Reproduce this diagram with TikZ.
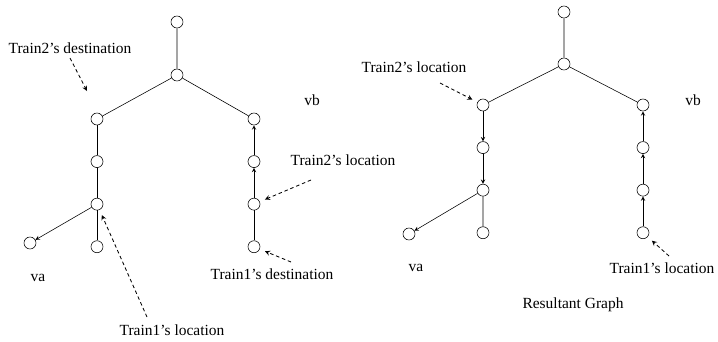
\documentclass[tikz,border=0pt]{standalone}
\usepackage{fontspec}
\setmainfont{Liberation Serif}
\usetikzlibrary{arrows,positioning}

\begin{document}
\begin{tikzpicture}[x=0.025cm, y=-0.025cm, node distance=0.75cm,
		every node/.style={font=\fontsize{11}{13}\selectfont},
		vtx/.style={draw, circle, inner sep=0pt, minimum size=0.3cm},
		pointer/.style={->, >=stealth, semithick, dash pattern=on 2.5pt off 2pt, shorten >=4pt}]
	\useasboundingbox (0,0) rectangle (718,342);

	% before: the two trains on the tree
	\node[vtx] (t1) at (177,22) {};
	\node[vtx] (m1) at (177,75) {};
	\node[vtx] (a1) at (97,119) {};
	\node[vtx, below = of a1] (a2) {};
	\node[vtx, below = of a2] (a3) {};
	\node[vtx, below = of a3] (a4) {};
	\node[vtx] (la) at (30,243) {};
	\node[vtx] (b1) at (254,119) {};
	\node[vtx, below = of b1] (b2) {};
	\node[vtx, below = of b2] (b3) {};
	\node[vtx, below = of b3] (b4) {};

	\draw (t1) -- (m1) (m1) -- (a1) (m1) -- (b1);
	\draw (a1) -- (a2) (a2) -- (a3) (a3) -- (a4) (b3) -- (b4);
	\draw[->, >=stealth] (a3) -- (la);
	\draw[->, >=stealth] (b3) -- (b2);
	\draw[->, >=stealth] (b2) -- (b1);

	\node (va1) at (38,278) {va};
	\node (vb1) at (312,100) {vb};
	\node (dest2) at (70,48) {Train2's destination};
	\node (loc2) at (343,160) {Train2's location};
	\node (dest1) at (272,274) {Train1's destination};
	\node (loc1) at (172,330) {Train1's location};

	\coordinate (dest2tip) at (87,91);
	\draw[pointer, shorten >=0pt] (70,58) -- (dest2tip);
	\coordinate (loc2tail) at (311,180);
	\draw[pointer] (loc2tail) -- (b3);
	\coordinate (dest1tail) at (291,262);
	\draw[pointer] (dest1tail) -- (b4);
	\coordinate (loc1tail) at (147,317);
	\draw[pointer] (loc1tail) -- (a3);

	% after: the resultant graph
	\node[vtx] (t2) at (564,12) {};
	\node[vtx] (m2) at (564,64) {};
	\node[vtx] (c1) at (483,105) {};
	\node[vtx, below = of c1] (c2) {};
	\node[vtx, below = of c2] (c3) {};
	\node[vtx, below = of c3] (c4) {};
	\node[vtx] (lc) at (409,234) {};
	\node[vtx] (d1) at (643,105) {};
	\node[vtx, below = of d1] (d2) {};
	\node[vtx, below = of d2] (d3) {};
	\node[vtx, below = of d3] (d4) {};

	\draw (t2) -- (m2) (m2) -- (c1) (m2) -- (d1) (c3) -- (c4);
	\draw[->, >=stealth] (c1) -- (c2);
	\draw[->, >=stealth] (c2) -- (c3);
	\draw[->, >=stealth] (c3) -- (lc);
	\draw[->, >=stealth] (d4) -- (d3);
	\draw[->, >=stealth] (d3) -- (d2);
	\draw[->, >=stealth] (d2) -- (d1);

	\node (va2) at (416,268) {va};
	\node (vb2) at (693,100) {vb};
	\node (loc2b) at (414,67) {Train2's location};
	\node (loc1b) at (662,268) {Train1's location};
	\node (result) at (573,305) {Resultant Graph};

	\coordinate (loc2btail) at (440,83);
	\draw[pointer] (loc2btail) -- (c1);
	\coordinate (loc1btail) at (669,256);
	\draw[pointer] (loc1btail) -- (d4);
\end{tikzpicture}
\end{document}
